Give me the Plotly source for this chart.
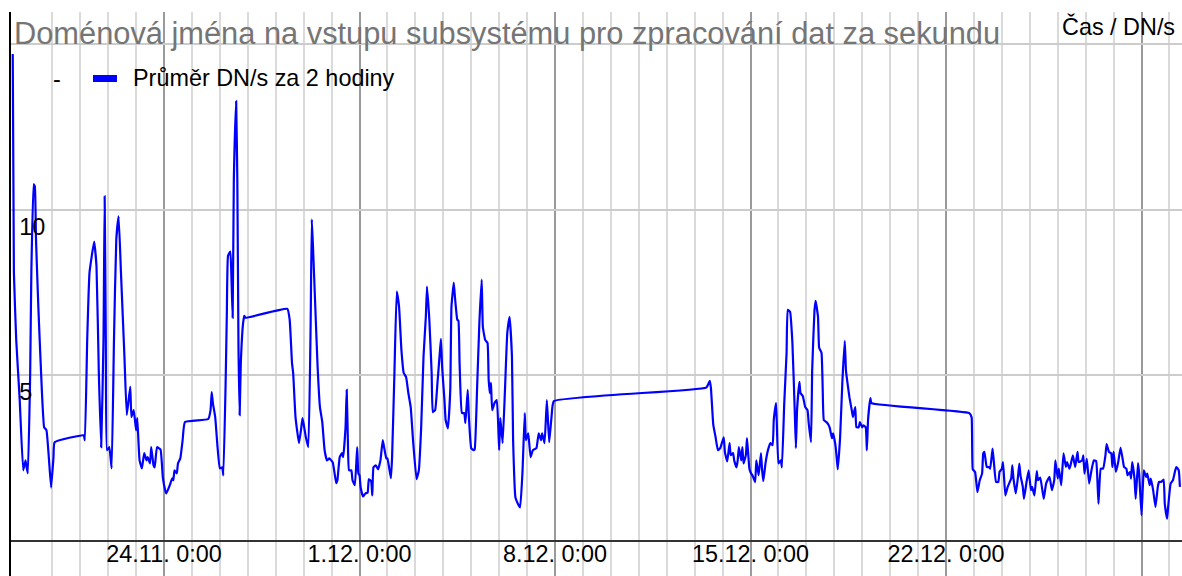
import pandas as pd
import plotly.graph_objects as go

# Two-hour averages of domain names per second; hours counted from 18.11. 12:00
hours = [
    2, 3, 5, 8, 11, 13, 14, 15, 17, 18, 20, 21, 22, 24, 27, 29, 31, 33, 35, 37, 38,
    63, 64, 66, 68, 72, 74, 76, 78, 80, 81, 82, 83, 85, 87, 89, 91, 93, 95, 98, 100,
    103, 104, 106, 108, 109, 111, 113, 115, 117, 118, 120, 121, 123, 124, 126, 129,
    131, 133, 134, 137, 139, 140, 141, 143, 144, 146, 148, 150,
    170, 172, 173, 174, 176, 178, 180, 182, 183, 185, 186, 187, 189, 190, 191, 192,
    194, 195, 196, 197, 198, 200, 201, 202,
    238, 240, 242, 243, 245, 248, 250, 251, 252, 254, 256, 258, 259, 260, 262, 264,
    266, 268, 270, 272, 274, 277, 280, 281, 283, 285, 286, 288, 289, 290, 291, 293,
    294, 296, 298, 299, 300, 301, 303, 305, 307, 308, 310, 311, 312, 314, 316, 318,
    320, 323, 324, 327, 328, 330, 332, 334, 336, 338, 340, 342, 344, 346, 349, 351,
    353, 355, 357, 358, 360, 362, 363, 365, 367, 369, 370, 371, 373, 374, 376, 378,
    379, 381, 382, 384, 385, 386, 388, 390, 391, 393, 394, 396, 398, 399, 401, 403,
    405, 406, 408, 410, 411, 412, 413, 414, 416, 418, 420, 421, 423, 425, 427, 429,
    431, 432, 434, 436, 438, 440, 442, 443, 445, 447, 449, 452, 454, 456, 457, 459,
    461, 463, 465, 467,
    598, 601, 602, 604, 606, 608, 610, 613, 614, 616, 618, 619, 621, 622, 624, 625,
    626, 628, 629, 630, 632, 633, 635, 636, 638, 640, 641, 643, 645, 646, 647, 649,
    651, 653, 655, 656, 658, 660, 662, 663, 665, 667, 668, 670, 672, 674, 675, 676,
    678, 679, 681, 683, 685, 686, 688, 689, 691, 692, 694, 695, 697, 698, 699, 701,
    702, 704, 706, 707, 709, 710, 711, 713, 715, 717, 718, 719, 721, 723, 724, 726,
    727, 729, 730, 732, 733, 735, 736, 737, 739, 740,
    824, 826, 827, 829, 831, 833, 835, 836, 837, 839, 841, 842, 844, 845, 847, 849,
    850, 852, 853, 855, 857, 860, 861, 862, 864, 866, 867, 868, 870, 871, 873, 875,
    877, 878, 880, 882, 883, 885, 888, 890, 892, 893, 895, 897, 898, 900, 901, 903,
    905, 907, 908, 910, 911, 913, 915, 917, 918, 921, 922, 923, 925, 927, 929, 931,
    933, 934, 935, 937, 939, 941, 942, 944, 946, 947, 948, 950, 952, 954, 956, 957,
    959, 960, 962, 963, 964, 966, 967, 969, 970, 972, 973, 974, 976, 977, 979, 980,
    982, 984, 986, 987, 989, 991, 992, 994, 995, 997, 998, 999, 1001, 1002, 1004, 1005,
]

values = [
    14.7, 8.1, 6.06, 4.24, 2.12, 2.42, 2.2, 2.03, 5.06, 8.1, 10.76, 10.7, 9.1, 7.06, 4.55,
    3.42, 3.33, 2.52, 1.6, 2.5, 2.97,
    3.18, 3.03, 6.06, 8.1, 9.03, 8.27, 5.06, 2.82, 6.06, 10.4, 6.06, 2.73, 2.82, 2.18,
    6.06, 9.1, 9.79, 8.1, 5.55, 3.79,
    4.65, 3.73, 3.94, 3.33, 3.7, 2.42, 2.18, 2.64, 2.42, 2.52, 2.33, 2.82, 2.27, 2.21,
    2.82, 2.75, 1.9, 1.52, 1.42, 1.67, 1.88, 1.82, 2.12, 2.03, 2.33, 2.48, 3.03, 3.58,
    3.67, 3.94, 4.48, 4.15, 3.73, 2.82, 2.18, 2.21, 1.97, 4.85, 6.88, 8.6, 8.73, 7.88,
    6.73, 10.9, 13.27, 10.9, 5.85, 3.79, 5.36, 6.58, 6.79, 6.73,
    7.0, 6.67, 5.36, 5.06, 3.73, 2.94, 3.42, 3.7, 3.52, 3.1, 2.82, 6.5, 9.7, 8.9, 7.06,
    5.24, 4.03, 3.58, 2.73, 2.42, 2.48, 2.36, 1.73, 1.82, 2.52, 2.64, 2.52, 3.42, 4.55,
    3.03, 2.12, 2.12, 1.82, 1.67, 2.82, 2.03, 1.97, 1.6, 1.33, 1.42, 1.45, 1.85, 1.79,
    1.36, 2.21, 2.27, 2.15, 2.42, 3.03, 2.48, 2.48, 1.88, 2.52, 5.06, 7.52, 7.06, 5.76,
    5.06, 4.94, 4.45, 4.03, 3.03, 1.85, 2.12, 3.42, 5.55, 6.76, 7.67, 6.67, 5.06, 3.88,
    3.94, 4.76, 5.67, 6.09, 5.24, 4.24, 3.64, 3.39, 4.55, 7.06, 7.79, 7.36, 6.67, 6.64,
    5.36, 3.85, 3.85, 3.55, 4.55, 3.73, 2.79, 2.73, 2.76, 4.55, 6.58, 7.88, 6.45, 6.06,
    5.97, 4.85, 4.45, 4.76, 3.94, 4.15, 4.24, 2.73, 3.7, 2.94, 4.55, 6.27, 6.76, 5.55,
    3.03, 1.3, 1.12, 1.0, 2.03, 3.85, 3.03, 3.24, 2.52, 2.73, 2.79, 3.24, 3.03, 3.24,
    2.94, 4.24, 2.97, 3.73, 4.21,
    4.62, 4.82, 4.6, 3.5, 3.12, 2.73, 2.79, 3.12, 2.67, 2.39, 2.94, 2.58, 2.64, 2.42,
    2.21, 2.42, 2.82, 2.42, 2.82, 2.33, 2.58, 3.09, 2.18, 2.06, 1.94, 1.76, 2.42, 1.97,
    2.64, 2.12, 1.79, 2.36, 2.73, 2.94, 2.88, 3.64, 4.15, 2.33, 2.42, 2.21, 4.15, 5.67,
    6.97, 6.91, 5.97, 3.94, 2.79, 3.94, 4.79, 4.45, 4.36, 4.03, 3.94, 3.55, 2.97, 5.15,
    6.97, 7.24, 6.76, 5.82, 5.67, 4.64, 3.64, 3.58, 3.55, 3.42, 3.09, 3.24, 2.88, 2.52,
    2.15, 3.12, 4.85, 6.03, 5.15, 4.85, 4.33, 3.94, 3.73, 4.03, 3.42, 3.42, 3.58, 3.42,
    3.48, 3.42, 2.73, 3.64, 4.3, 4.15,
    3.85, 3.72, 2.15, 2.07, 1.46, 1.82, 2.02, 2.63, 2.68, 2.22, 2.22, 2.17, 2.78, 2.42,
    1.77, 1.77, 2.07, 2.17, 2.37, 1.36, 1.62, 1.87, 2.27, 1.87, 1.42, 1.97, 2.32, 1.97,
    1.62, 1.26, 1.72, 2.12, 1.52, 1.62, 1.36, 2.1, 1.82, 1.9, 1.26, 1.72, 1.87, 1.92,
    1.52, 1.82, 2.42, 1.87, 2.17, 1.67, 2.63, 2.22, 2.37, 2.17, 2.27, 2.57, 2.22, 2.68,
    2.37, 2.42, 2.57, 2.02, 2.47, 1.72, 2.12, 2.42, 2.4, 1.92, 1.11, 2.17, 2.17, 2.57,
    2.91, 2.68, 2.63, 2.22, 2.68, 2.07, 2.37, 2.81, 2.42, 2.22, 2.17, 1.97, 2.07, 1.87,
    2.37, 1.87, 1.26, 2.34, 2.02, 0.76, 1.52, 2.12, 1.92, 2.02, 1.67, 1.87, 1.52, 1.01,
    1.62, 1.77, 1.77, 1.84, 1.11, 0.66, 1.06, 1.72, 1.77, 1.82, 2.12, 2.22, 2.12, 1.62,
]

start = pd.Timestamp("2019-11-18 12:00")
times = start + pd.to_timedelta(hours, unit="h")

week_ticks = ["2019-11-24", "2019-12-01", "2019-12-08", "2019-12-15", "2019-12-22", "2019-12-29"]
week_labels = ["24.11. 0:00", "1.12. 0:00", "8.12. 0:00", "15.12. 0:00", "22.12. 0:00", ""]
y_ticks = [0, 5, 10, 15]
y_labels = ["", "5", "10", ""]

title_text = "Doménová jména na vstupu subsystému pro zpracování dat za sekundu"
series_name = "Průměr DN/s za 2 hodiny"
axis_caption = "Čas / DN/s"

W, H = 1182, 576
L, T = 11, 12
FONT = "Liberation Sans, Arial, sans-serif"
SMALL = 23.4


def px(x):
    return (x - L) / (W - L)


def py(y):
    return (H - y) / (H - T)


fig = go.Figure()
fig.add_trace(go.Scatter(
    x=times, y=values, mode="lines", name=series_name,
    line=dict(color="#0000ff", width=2.2, shape="spline", smoothing=0.35),
    showlegend=False,
))

fig.update_layout(
    width=W, height=H,
    margin=dict(l=L, r=0, t=T, b=0, pad=0),
    paper_bgcolor="white", plot_bgcolor="white",
    font=dict(family=FONT, size=SMALL, color="black"),
    title=dict(text=title_text, x=14 / W, xanchor="left", y=1 - 33 / H, yanchor="middle",
               font=dict(family=FONT, size=30.8, color="#757575")),
    xaxis=dict(
        type="date", range=["2019-11-18 12:31", "2019-12-30 10:48"],
        tickvals=week_ticks, ticktext=week_labels, ticks="",
        ticklabelposition="inside", ticklabelstandoff=6,
        showgrid=True, gridcolor="#9a9a9a", gridwidth=2,
        minor=dict(tick0="2019-11-18", dtick=86400000, showgrid=True,
                   gridcolor="#dadada", gridwidth=2, ticks=""),
        showline=False, zeroline=False,
        tickfont=dict(family=FONT, size=SMALL, color="black"),
    ),
    yaxis=dict(
        range=[-1.0725, 15.967], tickvals=y_ticks, ticktext=y_labels, ticks="",
        ticklabelposition="inside", ticklabelshift=17, ticklabelstandoff=10,
        showgrid=True, gridcolor="#cccccc", gridwidth=2,
        zeroline=True, zerolinecolor="#333333", zerolinewidth=2,
        showline=True, linecolor="black", linewidth=2,
        tickfont=dict(family=FONT, size=SMALL, color="black"),
    ),
    showlegend=False,
)

# caption at the top right
fig.add_annotation(text=axis_caption, xref="paper", yref="paper", x=px(1177), y=py(27),
                   xanchor="right", yanchor="middle", showarrow=False,
                   font=dict(family=FONT, size=SMALL, color="black"))

# legend row: placeholder dash, colour swatch, series name
fig.add_annotation(text="-", xref="paper", yref="paper", x=px(57), y=py(79),
                   xanchor="center", yanchor="middle", showarrow=False,
                   font=dict(family=FONT, size=SMALL, color="black"))
fig.add_shape(type="rect", xref="paper", yref="paper",
              x0=px(93), x1=px(117), y0=py(82), y1=py(75),
              fillcolor="#0000ff", line=dict(width=0))
fig.add_annotation(text=series_name, xref="paper", yref="paper", x=px(131), y=py(78),
                   xanchor="left", yanchor="middle", showarrow=False,
                   font=dict(family=FONT, size=SMALL, color="black"))

fig.write_html("out.html")
